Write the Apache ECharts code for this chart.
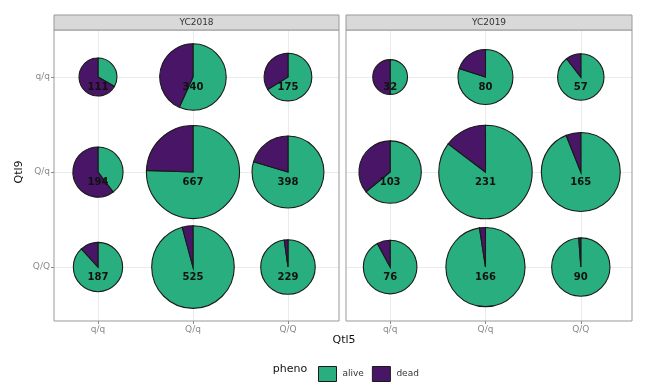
<!DOCTYPE html>
<html>
<head>
<meta charset="utf-8">
<script src="https://cdn.jsdelivr.net/npm/echarts@6/dist/echarts.min.js"></script>
<style>html,body{margin:0;padding:0;background:#fff}#c{width:651px;height:392px}</style>
</head>
<body>
<div id="c"></div>
<script>
// ---- data ----
const qtl5Cats = ['q/q', 'Q/q', 'Q/Q'];          // x (columns)
const qtl9Cats = ['q/q', 'Q/q', 'Q/Q'];          // y (rows, top to bottom)
const years = ['YC2018', 'YC2019'];
// totals[row = Qtl9][col = Qtl5]
const total2018 = [[111, 340, 175], [194, 667, 398], [187, 525, 229]];
const dead2018  = [[74, 147, 59],  [117, 163, 81],  [22, 22, 5]];
const total2019 = [[32, 80, 57],   [103, 231, 165], [76, 166, 90]];
const dead2019  = [[16, 16, 6],    [37, 34, 10],    [6, 4, 1]];

const COL_ALIVE = '#29AF7F', COL_DEAD = '#481567';
const FONT = '"DejaVu Sans", sans-serif';

function buildItems(totals, deads) {
  const items = [];
  for (let r = 0; r < 3; r++) for (let c = 0; c < 3; c++) {
    items.push([c + 1, 3 - r, totals[r][c], deads[r][c]]);
  }
  return items;
}
function maxOf(m) { return Math.max.apply(null, m.flat()); }

function pieSeries(kind, gi, items, maxN) {
  return {
    type: 'custom', name: kind, xAxisIndex: gi, yAxisIndex: gi,
    itemStyle: { color: kind === 'alive' ? COL_ALIVE : COL_DEAD, borderColor: '#1a1a1a' },
    data: items, z: 3,
    renderItem: function (params, api) {
      const x = api.value(0), y = api.value(1), n = api.value(2), d = api.value(3);
      const c = api.coord([x, y]);
      const r = api.size([0.49 * Math.sqrt(n / maxN), 0])[0];
      const fa = (n - d) / n;
      const s = -Math.PI / 2;
      let a0, a1;
      if (kind === 'alive') { a0 = s; a1 = s + 2 * Math.PI * fa; }
      else { a0 = s + 2 * Math.PI * fa; a1 = s + 2 * Math.PI; }
      return {
        type: 'sector',
        shape: { cx: c[0], cy: c[1], r: r, r0: 0, startAngle: a0, endAngle: a1, clockwise: true },
        style: { fill: kind === 'alive' ? COL_ALIVE : COL_DEAD, stroke: '#1a1a1a', lineWidth: 1.1 }
      };
    }
  };
}
function labelSeries(gi, items) {
  return {
    type: 'custom', name: 'labels', xAxisIndex: gi, yAxisIndex: gi, data: items, z: 5,
    renderItem: function (params, api) {
      const c = api.coord([api.value(0), api.value(1) - 0.105]);
      return {
        type: 'text', x: c[0], y: c[1],
        style: { text: String(api.value(2)), font: 'bold 10px ' + FONT, fill: '#111', align: 'center', verticalAlign: 'middle' }
      };
    }
  };
}

const grids = [
  { left: 54, top: 30, width: 285, height: 291 },
  { left: 346, top: 30, width: 286, height: 291 }
];
const xAxes = [], yAxes = [], series = [];
const sets = [[total2018, dead2018], [total2019, dead2019]];
sets.forEach(function (s, gi) {
  xAxes.push({
    type: 'value', gridIndex: gi, min: 0.537, max: 3.537,
    axisLine: { show: false },
    axisTick: { show: true, customValues: [1, 2, 3], length: 3, lineStyle: { color: '#888' } },
    axisLabel: { customValues: [1, 2, 3], formatter: function (v) { return qtl5Cats[Math.round(v) - 1]; }, color: '#8a8a8a', fontSize: 9, fontFamily: FONT, margin: 4 },
    splitLine: { show: true, lineStyle: { color: '#ebebeb', width: 1 } }
  });
  yAxes.push({
    type: 'value', gridIndex: gi, min: 0.432, max: 3.495,
    axisLine: { show: false },
    axisTick: { show: gi === 0, customValues: [1, 2, 3], length: 3, lineStyle: { color: '#888' } },
    axisLabel: { show: gi === 0, customValues: [1, 2, 3], formatter: function (v) { return qtl9Cats[3 - Math.round(v)]; }, color: '#8a8a8a', fontSize: 9, fontFamily: FONT, margin: 4 },
    splitLine: { show: true, lineStyle: { color: '#ebebeb', width: 1 } }
  });
  const items = buildItems(s[0], s[1]);
  const mx = maxOf(s[0]);
  series.push(pieSeries('alive', gi, items, mx));
  series.push(pieSeries('dead', gi, items, mx));
  series.push(labelSeries(gi, items));
});

const graphics = [];
grids.forEach(function (g, gi) {
  graphics.push({ type: 'rect', shape: { x: g.left, y: g.top, width: g.width, height: g.height }, style: { fill: 'none', stroke: '#999', lineWidth: 1 }, z: 10, silent: true });
  graphics.push({ type: 'rect', shape: { x: g.left, y: 15, width: g.width, height: 15 }, style: { fill: '#d9d9d9', stroke: '#999', lineWidth: 1 }, z: 10 });
  graphics.push({ type: 'text', x: g.left + g.width / 2, y: 23, style: { text: years[gi], font: '9px ' + FONT, fill: '#333', align: 'center', verticalAlign: 'middle' }, z: 11 });
});
graphics.push({ type: 'text', x: 344, y: 340, style: { text: 'Qtl5', font: '11px ' + FONT, fill: '#111', align: 'center', verticalAlign: 'middle' } });
graphics.push({ type: 'text', x: 19, y: 172, rotation: Math.PI / 2, style: { text: 'Qtl9', font: '11px ' + FONT, fill: '#111', align: 'center', verticalAlign: 'middle' } });
graphics.push({ type: 'text', x: 290, y: 369, style: { text: 'pheno', font: '11px ' + FONT, fill: '#111', align: 'center', verticalAlign: 'middle' } });

const chart = echarts.init(document.getElementById('c'), null, { renderer: 'canvas' });
chart.setOption({
  animation: false,
  backgroundColor: '#fff',
  grid: grids,
  xAxis: xAxes,
  yAxis: yAxes,
  series: series,
  graphic: graphics,
  legend: {
    left: 313, top: 361, itemWidth: 18, itemHeight: 15, itemGap: 8,
    data: [
      { name: 'alive', icon: 'rect', itemStyle: { color: COL_ALIVE, borderColor: '#1a1a1a', borderWidth: 1 } },
      { name: 'dead', icon: 'rect', itemStyle: { color: COL_DEAD, borderColor: '#1a1a1a', borderWidth: 1 } }
    ],
    textStyle: { fontSize: 9, color: '#333', fontFamily: FONT, padding: [0, 0, 0, 1] },
    selectedMode: false
  }
});
</script>
</body>
</html>
